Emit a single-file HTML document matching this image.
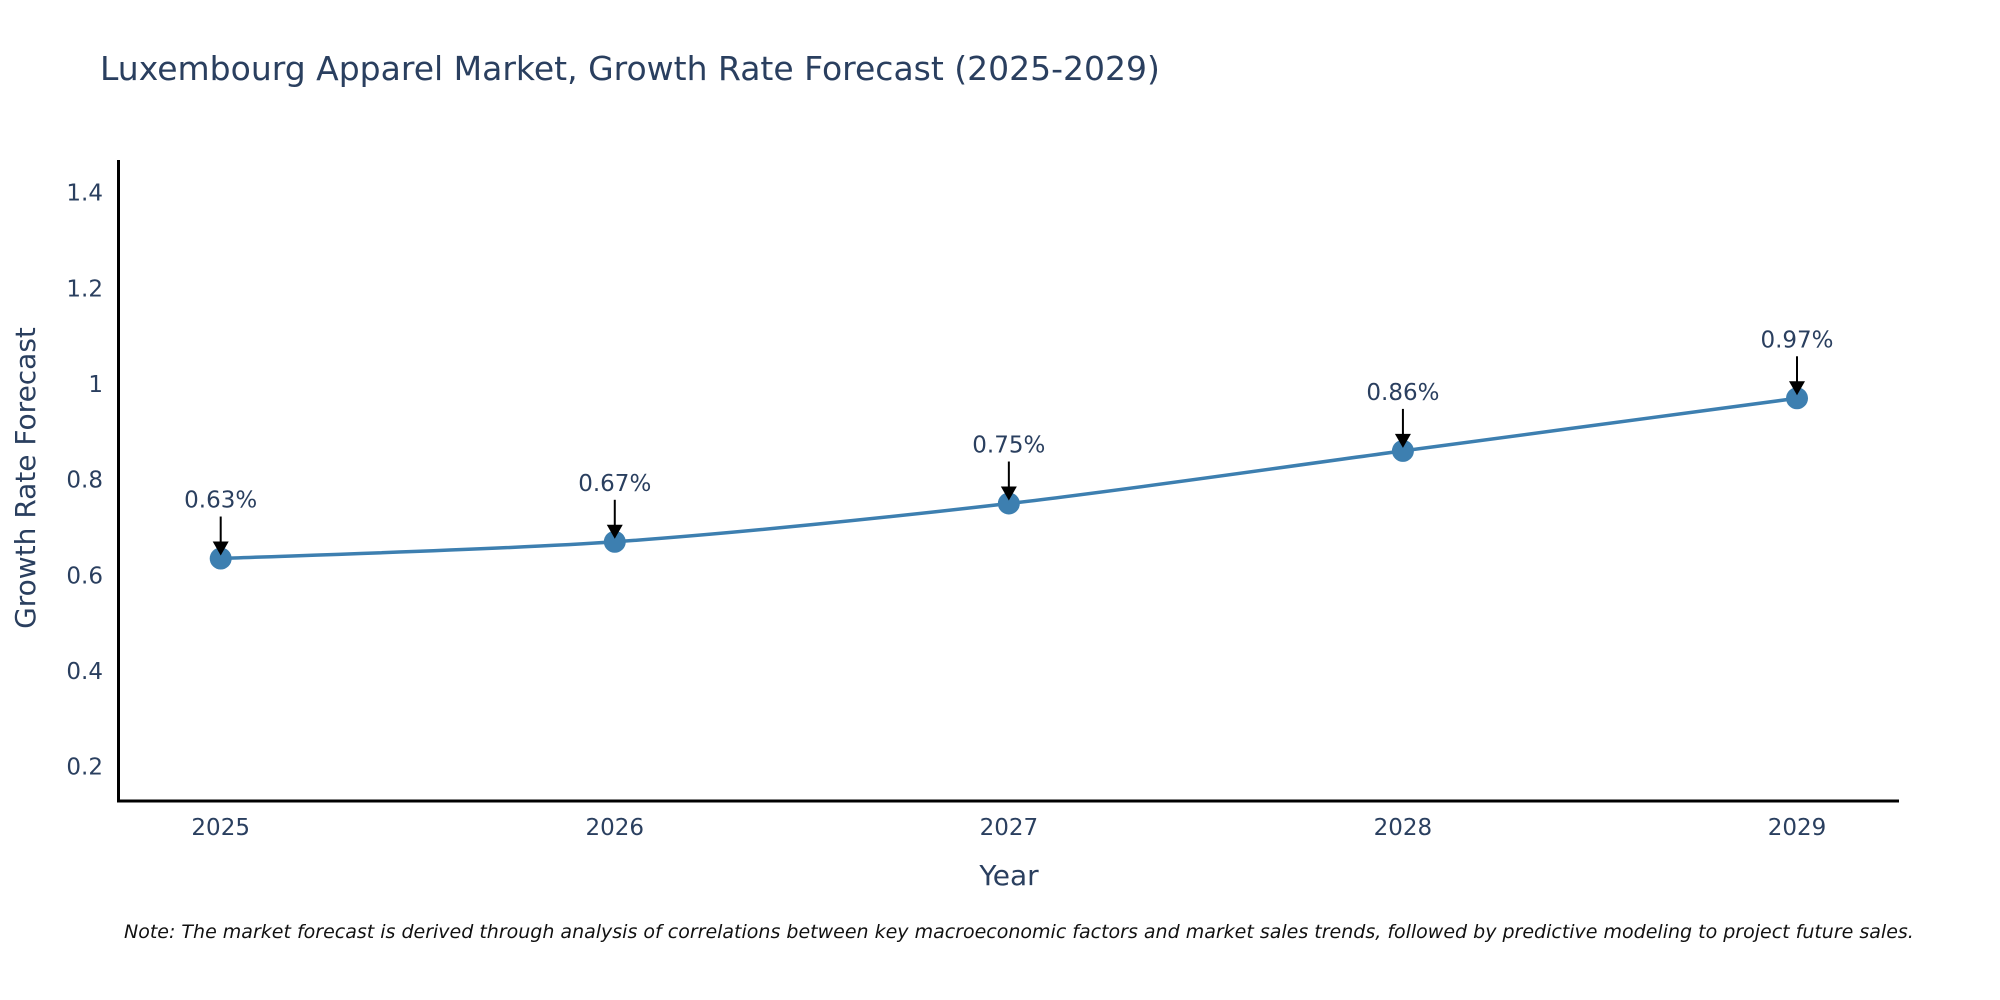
<!DOCTYPE html>
<html><head><meta charset="utf-8"><style>
body{margin:0;background:#fff;}
svg{display:block;font-family:"DejaVu Sans","Liberation Sans",sans-serif;}
</style></head><body>
<svg id="chart" width="2000" height="1000">
<text x="100" y="80" font-size="33" fill="#2a3f5f">Luxembourg Apparel Market, Growth Rate Forecast (2025-2029)</text>
<g id="yticks"></g><g id="xticks"></g>
<line x1="118.5" y1="160" x2="118.5" y2="802" stroke="#000" stroke-width="3"/>
<line x1="117" y1="801" x2="1899" y2="801" stroke="#000" stroke-width="3"/>
<g id="series"></g><g id="annots"></g>
<text x="0" y="0" transform="translate(35,478) rotate(-90)" text-anchor="middle" font-size="28" fill="#2a3f5f">Growth Rate Forecast</text>
<text x="1009" y="885" text-anchor="middle" font-size="28" fill="#2a3f5f">Year</text>
<text x="124" y="938" font-size="19" font-style="italic" fill="#111">Note: The market forecast is derived through analysis of correlations between key macroeconomic factors and market sales trends, followed by predictive modeling to project future sales.</text>
</svg>
<script>
const years = ["2025","2026","2027","2028","2029"];
const values = [0.635, 0.67, 0.75, 0.86, 0.97];
const labels = ["0.63%","0.67%","0.75%","0.86%","0.97%"];
const yTickVals = [0.2,0.4,0.6,0.8,1,1.2,1.4];
const yTickLabels = ["0.2","0.4","0.6","0.8","1","1.2","1.4"];

const NS="http://www.w3.org/2000/svg";
function xs(i){return 220.7 + i*(1797-220.7)/(years.length-1);}
function ys(v){return 766.6 - (v-0.2)*(766.6-192.6)/1.2;}
function mk(tag,attrs,parent,text){const e=document.createElementNS(NS,tag);for(const k in attrs)e.setAttribute(k,attrs[k]);if(text!==undefined)e.textContent=text;parent.appendChild(e);return e;}

const yt=document.getElementById('yticks');
yTickVals.forEach((v,i)=>{
  const t=mk('text',{x:103,y:ys(v)+8,'text-anchor':'end','font-size':23,fill:'#2a3f5f'},yt,yTickLabels[i]);
  
  
});
const xt=document.getElementById('xticks');
years.forEach((y,i)=>{
  const t=mk('text',{x:xs(i),y:835,'text-anchor':'middle','font-size':23,fill:'#2a3f5f'},xt,y);
  
  
});

const pts=values.map((v,i)=>[xs(i),ys(v)]);
let d=`M${pts[0][0]},${pts[0][1]}`;
for(let i=0;i<pts.length-1;i++){
  const p0=pts[Math.max(0,i-1)],p1=pts[i],p2=pts[i+1],p3=pts[Math.min(pts.length-1,i+2)];
  const k=0.15;
  const c1=[p1[0]+(p2[0]-p0[0])*k,p1[1]+(p2[1]-p0[1])*k];
  const c2=[p2[0]-(p3[0]-p1[0])*k,p2[1]-(p3[1]-p1[1])*k];
  d+=` C${c1[0]},${c1[1]} ${c2[0]},${c2[1]} ${p2[0]},${p2[1]}`;
}
const s=document.getElementById('series');
const line=mk('path',{d:d,fill:'none',stroke:'#3d7fb0','stroke-width':3.5},s);


pts.forEach(p=>{
  const c=mk('circle',{cx:p[0],cy:p[1],r:11,fill:'#3d7fb0'},s);
  
  
});
const a=document.getElementById('annots');
pts.forEach((p,i)=>{
  const l=mk('line',{x1:p[0],y1:p[1]-42,x2:p[0],y2:p[1]-12,stroke:'#000','stroke-width':2},a);
  
  
  const h=mk('polygon',{points:`${p[0]-8},${p[1]-17} ${p[0]+8},${p[1]-17} ${p[0]},${p[1]-3}`,fill:'#000'},a);
  
  
  const t=mk('text',{x:p[0],y:p[1]-51,'text-anchor':'middle','font-size':23,fill:'#2a3f5f'},a,labels[i]);
  
  
});
</script>
</body></html>
